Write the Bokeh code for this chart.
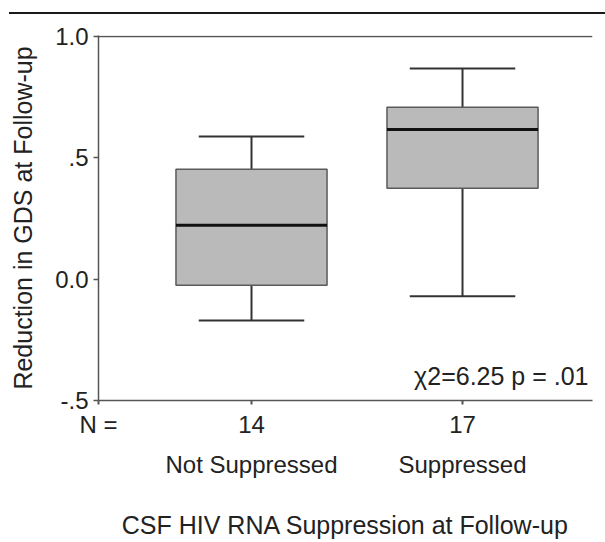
from bokeh.plotting import figure
from bokeh.models import (Range1d, FixedTicker, LinearAxis, Label, Div, Span, ColumnDataSource)
from bokeh.layouts import column
from bokeh.embed import file_html
from bokeh.resources import INLINE

# ---- data ----
categories = ["Not Suppressed", "Suppressed"]
n_values = [14, 17]
whisker_low = [-0.17, -0.07]
q1 = [-0.025, 0.375]
median = [0.222, 0.617]
q3 = [0.453, 0.708]
whisker_high = [0.588, 0.868]
y_ticks = [-0.5, 0.0, 0.5, 1.0]
y_tick_labels = ["-.5", "0.0", ".5", "1.0"]
n_label = "N ="
stat_text = "\u03c72=6.25 p = .01"

FONT = "Liberation Sans"
TXT = "#222222"
AX = "#555555"

xs = [i + 1 for i in range(len(categories))]
half_box = 0.358
half_cap = 0.25
x_start = 0.2749

src = ColumnDataSource(dict(
    x=xs,
    left=[x - half_box for x in xs],
    right=[x + half_box for x in xs],
    cap_l=[x - half_cap for x in xs],
    cap_r=[x + half_cap for x in xs],
    wl=whisker_low, q1=q1, med=median, q3=q3, wh=whisker_high,
))

p = figure(width=605, height=527, output_backend="svg", toolbar_location=None,
           x_range=Range1d(x_start, 2.616), y_range=Range1d(-0.5, 1.0 + 1.0 / 243),
           x_axis_location=None, y_axis_location=None,
           min_border_left=98, min_border_right=13, min_border_top=21,
           min_border_bottom=141)
p.grid.visible = False
p.outline_line_color = None
p.background_fill_color = "white"
p.border_fill_color = "white"

# whiskers
p.segment(x0="x", x1="x", y0="q3", y1="wh", source=src, line_color="#333333", line_width=2)
p.segment(x0="x", x1="x", y0="wl", y1="q1", source=src, line_color="#333333", line_width=2)
p.segment(x0="cap_l", x1="cap_r", y0="wh", y1="wh", source=src, line_color="#333333", line_width=2)
p.segment(x0="cap_l", x1="cap_r", y0="wl", y1="wl", source=src, line_color="#333333", line_width=2)
# boxes
p.quad(left="left", right="right", bottom="q1", top="q3", source=src,
       fill_color="#bababa", line_color="#5a5a5a", line_width=1.5)
# medians
p.segment(x0="left", x1="right", y0="med", y1="med", source=src, line_color="#111111", line_width=3)

# top frame line at 1.0
p.add_layout(Span(location=y_ticks[-1], dimension="width", line_color=AX, line_width=1.5))

# y axis
yax = LinearAxis(ticker=FixedTicker(ticks=y_ticks),
                 major_label_overrides={t: l for t, l in zip(y_ticks, y_tick_labels)},
                 axis_label="Reduction in GDS at Follow-up")
yax.major_tick_out = 5
yax.major_tick_in = 0
yax.minor_tick_line_color = None
yax.axis_line_color = AX
yax.axis_line_width = 1.5
yax.major_tick_line_color = AX
yax.major_tick_line_width = 1.5
yax.major_label_standoff = 5
yax.major_label_text_font = FONT
yax.major_label_text_font_size = "24px"
yax.major_label_text_color = TXT
yax.axis_label_text_font = FONT
yax.axis_label_text_font_size = "25px"
yax.axis_label_text_font_style = "normal"
yax.axis_label_text_color = TXT
yax.axis_label_standoff = 15
p.add_layout(yax, "left")

# x axis 1: N values
xticks = [x_start] + xs
xlabels = [n_label] + [str(n) for n in n_values]
xax = LinearAxis(ticker=FixedTicker(ticks=xticks),
                 major_label_overrides={t: l for t, l in zip(xticks, xlabels)})
xax.major_tick_out = 4
xax.major_tick_in = 0
xax.minor_tick_line_color = None
xax.axis_line_color = AX
xax.axis_line_width = 1.5
xax.major_tick_line_color = AX
xax.major_tick_line_width = 2
xax.major_label_standoff = 6
xax.major_label_text_font = FONT
xax.major_label_text_font_size = "24px"
xax.major_label_text_color = TXT
p.add_layout(xax, "below")

# x axis 2: category names + title
cax = LinearAxis(ticker=FixedTicker(ticks=xs),
                 major_label_overrides={x: c for x, c in zip(xs, categories)},
                 axis_label="CSF HIV RNA Suppression at Follow-up")
cax.axis_line_color = None
cax.major_tick_line_color = None
cax.minor_tick_line_color = None
cax.major_tick_out = 0
cax.major_tick_in = 0
cax.major_label_standoff = 10
cax.major_label_text_font = FONT
cax.major_label_text_font_size = "24px"
cax.major_label_text_color = TXT
cax.axis_label_text_font = FONT
cax.axis_label_text_font_size = "25px"
cax.axis_label_text_font_style = "normal"
cax.axis_label_text_color = TXT
cax.axis_label_standoff = 30
p.add_layout(cax, "below")

# annotation
p.add_layout(Label(x=2.597, y=-0.40, text=stat_text, text_align="right",
                   text_baseline="middle", text_font=FONT, text_font_size="25px",
                   text_color=TXT))

rule = Div(text="", width=596, height=14, margin=(0, 0, 0, 9),
           styles={"border-bottom": "2px solid #1a1a1a", "box-sizing": "border-box"})

layout = column(rule, p, spacing=0)
open("out.html", "w").write(file_html(layout, INLINE))
